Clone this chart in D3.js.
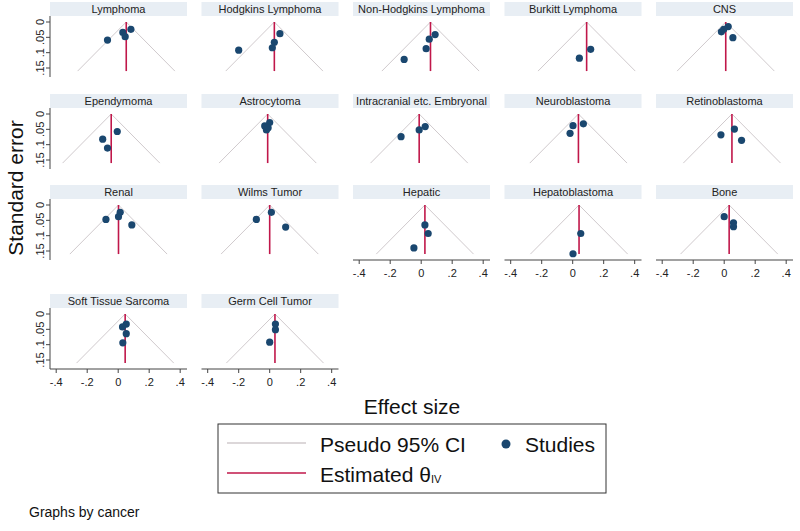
<!DOCTYPE html>
<html>
<head>
<meta charset="utf-8">
<script src="https://cdn.jsdelivr.net/npm/d3@7"></script>
<style>
  html, body { margin: 0; padding: 0; background: #fff; }
  svg text { font-family: Arial, "Liberation Sans", Helvetica, sans-serif; }
</style>
</head>
<body>
<svg id="chart" width="800" height="531"></svg>
<script>
// ---------------- data ----------------
const cancers = ["Lymphoma", "Hodgkins Lymphoma", "Non-Hodgkins Lymphoma", "Burkitt Lymphoma", "CNS",
  "Ependymoma", "Astrocytoma", "Intracranial etc. Embryonal", "Neuroblastoma", "Retinoblastoma",
  "Renal", "Wilms Tumor", "Hepatic", "Hepatoblastoma", "Bone",
  "Soft Tissue Sarcoma", "Germ Cell Tumor"];
// pooled (inverse-variance) estimate per cancer
const thetaIV = [0.052, 0.030, 0.060, 0.090, 0.010,
  -0.045, -0.013, -0.013, 0.037, 0.050,
  0.002, 0.000, 0.024, 0.041, 0.032,
  0.045, 0.034];
// study effect sizes per cancer
const studyEffects = [
  [0.082, 0.030, 0.045, -0.069],
  [0.066, 0.030, 0.017, -0.200],
  [0.090, 0.052, 0.032, -0.110],
  [0.116, 0.043],
  [0.026, -0.003, -0.018, 0.056],
  [-0.006, -0.100, -0.069],
  [0.000, -0.032, -0.021, -0.010],
  [0.026, -0.013, -0.130],
  [0.069, 0.002, -0.017],
  [0.066, -0.021, 0.112],
  [0.013, 0.002, -0.079, 0.088],
  [0.011, -0.086, 0.103],
  [0.024, 0.045, -0.047],
  [0.052, 0.002],
  [0.000, 0.060, 0.060],
  [0.052, 0.028, 0.052, 0.030],
  [0.037, 0.037, 0.000]
];
// study standard errors per cancer
const studySEs = [
  [0.024, 0.034, 0.048, 0.059],
  [0.038, 0.066, 0.084, 0.092],
  [0.041, 0.056, 0.087, 0.122],
  [0.089, 0.118],
  [0.015, 0.024, 0.032, 0.051],
  [0.057, 0.082, 0.111],
  [0.028, 0.039, 0.052, 0.045],
  [0.041, 0.052, 0.074],
  [0.032, 0.038, 0.063],
  [0.049, 0.068, 0.086],
  [0.024, 0.038, 0.047, 0.065],
  [0.024, 0.047, 0.072],
  [0.065, 0.093, 0.140],
  [0.093, 0.159],
  [0.038, 0.058, 0.071],
  [0.033, 0.042, 0.064, 0.094],
  [0.033, 0.051, 0.092]
];
const seMax = 0.16;
const xTicks = [-0.4, -0.2, 0, 0.2, 0.4];
const xTickLabels = ["-.4", "-.2", "0", ".2", ".4"];
const yTicks = [0, 0.05, 0.1, 0.15];
const yTickLabels = ["0", ".05", ".1", ".15"];

// ---------------- styling / layout ----------------
const colDot = "#1a476f";
const colTheta = "#c0174a";
const colCI = "#d0cacd";
const colHeader = "#e8eef4";

const nCols = 5;
const panelW = 137, colPitch = 151.5, left0 = 50;
const rowZero = [22, 114, 205, 314]; // pixel y of se = 0 per row
const plotTopOff = -6, plotBotOff = 55;

const svg = d3.select("#chart");

const xScale = d3.scaleLinear().domain([-0.44, 0.444]).range([0, panelW]);
const yScale = d3.scaleLinear().domain([0, 0.15]).range([0, 46]);

cancers.forEach((name, i) => {
  const r = Math.floor(i / nCols), c = i % nCols;
  const left = left0 + c * colPitch;
  const y0 = rowZero[r];
  const g = svg.append("g").attr("transform", `translate(${left},${y0})`);

  // header
  g.append("rect").attr("x", 0).attr("y", -20).attr("width", panelW).attr("height", 14)
    .attr("fill", colHeader);
  g.append("text").attr("x", panelW / 2).attr("y", -9.5).attr("text-anchor", "middle")
    .attr("font-size", 11).attr("fill", "#222").text(name);

  const th = thetaIV[i];
  // pseudo 95% CI lines
  [-1, 1].forEach(s => {
    g.append("line")
      .attr("x1", xScale(th)).attr("y1", yScale(0))
      .attr("x2", xScale(th + s * 1.96 * seMax)).attr("y2", yScale(seMax))
      .attr("stroke", colCI).attr("stroke-width", 1);
  });
  // estimated theta line
  g.append("line")
    .attr("x1", xScale(th)).attr("y1", yScale(0))
    .attr("x2", xScale(th)).attr("y2", yScale(seMax))
    .attr("stroke", colTheta).attr("stroke-width", 1.6);

  // studies
  g.selectAll("circle.s").data(studyEffects[i].map((e, k) => ({ e, se: studySEs[i][k] })))
    .enter().append("circle")
    .attr("cx", d => xScale(d.e)).attr("cy", d => yScale(d.se))
    .attr("r", 3.6).attr("fill", colDot);

  // y axis on first column
  if (c === 0) {
    const ya = g.append("g");
    ya.append("line").attr("x1", 0).attr("x2", 0).attr("y1", plotTopOff).attr("y2", plotBotOff)
      .attr("stroke", "#444").attr("stroke-width", 1);
    yTicks.forEach((t, k) => {
      ya.append("line").attr("x1", -4).attr("x2", 0).attr("y1", yScale(t)).attr("y2", yScale(t))
        .attr("stroke", "#444");
      ya.append("text").attr("transform", `translate(-6,${yScale(t)}) rotate(-90)`)
        .attr("text-anchor", "middle").attr("font-size", 11).attr("fill", "#222")
        .text(yTickLabels[k]);
    });
  }
  // x axis on bottom panel of each column
  if (i + nCols >= cancers.length) {
    const xa = g.append("g").attr("transform", `translate(0,${plotBotOff})`);
    xa.append("line").attr("x1", 0).attr("x2", panelW).attr("y1", 0).attr("y2", 0)
      .attr("stroke", "#444");
    xTicks.forEach((t, k) => {
      xa.append("line").attr("x1", xScale(t)).attr("x2", xScale(t)).attr("y1", 0).attr("y2", 4)
        .attr("stroke", "#444");
      xa.append("text").attr("x", xScale(t)).attr("y", 17).attr("text-anchor", "middle")
        .attr("font-size", 11).attr("fill", "#222").text(xTickLabels[k]);
    });
  }
});

// axis titles
svg.append("text").attr("transform", "translate(23,188) rotate(-90)")
  .attr("text-anchor", "middle").attr("font-size", 21).attr("fill", "#111").text("Standard error");
svg.append("text").attr("x", 412).attr("y", 414).attr("text-anchor", "middle")
  .attr("font-size", 21).attr("fill", "#111").text("Effect size");

// legend
const lg = svg.append("g");
lg.append("rect").attr("x", 218).attr("y", 424).attr("width", 388).attr("height", 69)
  .attr("fill", "#fff").attr("stroke", "#333").attr("stroke-width", 1);
lg.append("line").attr("x1", 227).attr("x2", 306).attr("y1", 443).attr("y2", 443)
  .attr("stroke", colCI).attr("stroke-width", 1.5);
lg.append("text").attr("x", 320).attr("y", 452).attr("font-size", 21).attr("fill", "#111")
  .text("Pseudo 95% CI");
lg.append("line").attr("x1", 227).attr("x2", 306).attr("y1", 473).attr("y2", 473)
  .attr("stroke", colTheta).attr("stroke-width", 1.6);
const est = lg.append("text").attr("x", 320).attr("y", 482).attr("font-size", 21).attr("fill", "#111");
est.append("tspan").text("Estimated θ");
est.append("tspan").attr("font-size", 11).attr("dy", 1).text("IV");
lg.append("circle").attr("cx", 506).attr("cy", 444).attr("r", 4.5).attr("fill", colDot);
lg.append("text").attr("x", 525).attr("y", 452).attr("font-size", 21).attr("fill", "#111")
  .text("Studies");

svg.append("text").attr("x", 29).attr("y", 517).attr("font-size", 14).attr("fill", "#111")
  .text("Graphs by cancer");
</script>
</body>
</html>
